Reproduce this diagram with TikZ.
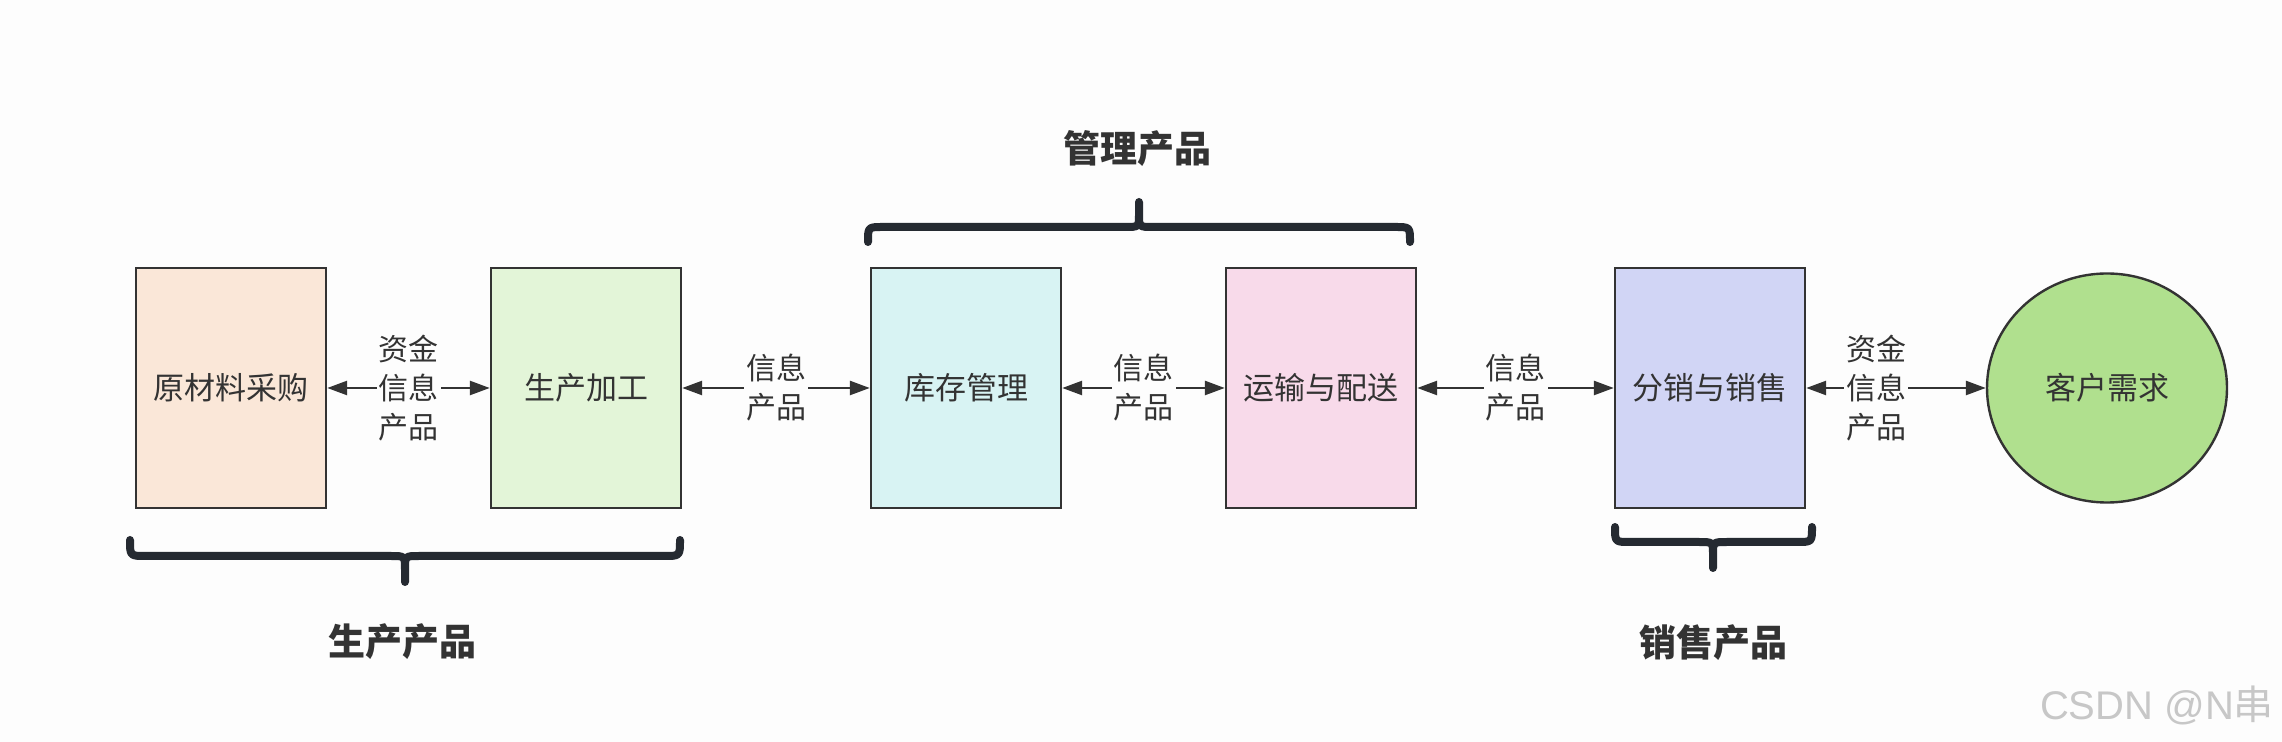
\documentclass[tikz,border=0pt]{standalone}
\usepackage{fontspec}
\setmainfont{Noto Sans CJK SC}
\newfontfamily\cjk{Noto Sans CJK SC}
\newfontfamily\wmfont{Liberation Sans}
\usetikzlibrary{arrows.meta,shapes.geometric}

\definecolor{rand}{HTML}{333333}
\definecolor{klammerfarbe}{HTML}{252A31}
\definecolor{hintergrund}{HTML}{FDFDFD}
\definecolor{pfirsich}{HTML}{FAE7D8}
\definecolor{hellgruen}{HTML}{E3F5D8}
\definecolor{hellcyan}{HTML}{D8F3F3}
\definecolor{rosa}{HTML}{F8DAEA}
\definecolor{lavendel}{HTML}{D1D5F5}
\definecolor{gruen}{HTML}{B0E08E}

\begin{document}
\begin{tikzpicture}[x=0.5pt,y=-0.5pt,
  kasten/.style={draw=rand,line width=1.2pt,minimum width=95pt,minimum height=120pt,
    inner sep=0pt,text=rand,font=\fontsize{15.5}{18}\selectfont},
  pfeil/.style={draw=rand,line width=1.3pt,
    {Triangle[length=10pt,width=7pt]}-{Triangle[length=10pt,width=7pt]}},
  fluss/.style={fill=hintergrund,inner sep=1pt,align=center,text=rand,
    font=\fontsize{15}{19.5}\selectfont},
  klammer/.style={draw=klammerfarbe,line width=4pt,line cap=round,line join=round},
  titel/.style={text=rand,font=\fontsize{18.5}{22}\selectfont\bfseries}]

% Hintergrund
\fill[hintergrund] (0,0) rectangle (2282,742);
\useasboundingbox (0,0) rectangle (2282,742);

% Kaesten
\node[kasten,fill=pfirsich]  (rohstoff)  at (231,388)  {原材料采购};
\node[kasten,fill=hellgruen] (fertigung) at (586,388)  {生产加工};
\node[kasten,fill=hellcyan]  (lager)     at (966,388)  {库存管理};
\node[kasten,fill=rosa]      (transport) at (1321,388) {运输与配送};
\node[kasten,fill=lavendel]  (vertrieb)  at (1710,388) {分销与销售};
\node[ellipse,draw=rand,line width=1.2pt,fill=gruen,minimum width=120pt,minimum height=114.5pt,
  inner sep=0pt,text=rand,font=\fontsize{15.5}{18}\selectfont] (kunde) at (2107,388) {客户需求};

% Pfeile mit Beschriftung
\draw[pfeil] (rohstoff) -- node[fluss] {资金\\信息\\产品} (fertigung);
\draw[pfeil] (fertigung) -- node[fluss] {信息\\产品} (lager);
\draw[pfeil] (lager) -- node[fluss] {信息\\产品} (transport);
\draw[pfeil] (transport) -- node[fluss] {信息\\产品} (vertrieb);
\draw[pfeil] (vertrieb) -- node[fluss,pos=0.39] {资金\\信息\\产品} (kunde);

% Klammern
\draw[klammer] (130,540) .. controls (130,556) .. (146,556) -- (391,556)
  .. controls (405,556) .. (405,570) -- (405,582)
  (405,570) .. controls (405,556) .. (419,556) -- (664,556) .. controls (680,556) .. (680,540);
\draw[klammer] (868,242) .. controls (868,227) .. (883,227) -- (1125,227)
  .. controls (1139,227) .. (1139,214) -- (1139,202)
  (1139,214) .. controls (1139,227) .. (1153,227) -- (1395,227) .. controls (1410,227) .. (1410,242);
\draw[klammer] (1615,527) .. controls (1615,542) .. (1630,542) -- (1699,542)
  .. controls (1713,542) .. (1713,555) -- (1713,568)
  (1713,555) .. controls (1713,542) .. (1727,542) -- (1797,542) .. controls (1812,542) .. (1812,527);

% Titel
\node[titel] (produktion) at (402,642)  {生产产品};
\node[titel] (verwaltung) at (1137,149) {管理产品};
\node[titel] (verkauf)    at (1713,643) {销售产品};

% Wasserzeichen
\node[text=black!22,font=\wmfont\fontsize{20}{24}\selectfont] (wasserzeichen) at (2157,705) {CSDN @N{\cjk 串}};

\end{tikzpicture}
\end{document}
